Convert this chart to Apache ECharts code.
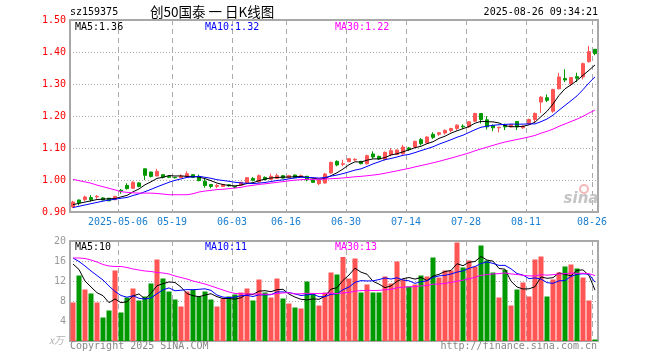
<!DOCTYPE html>
<html>
<head>
<meta charset="utf-8">
<script src="https://cdn.jsdelivr.net/npm/echarts@6/dist/echarts.min.js"></script>
<style>html,body{margin:0;padding:0;background:#fff;}#c{width:660px;height:360px;}</style>
</head>
<body>
<div id="c"></div>
<script>
// ---- data ----
const dates = [
'2025-04-21','2025-04-22','2025-04-23','2025-04-24','2025-04-25','2025-04-28','2025-04-29','2025-04-30',
'2025-05-06','2025-05-07','2025-05-08','2025-05-09','2025-05-12','2025-05-13','2025-05-14','2025-05-15','2025-05-16',
'2025-05-19','2025-05-20','2025-05-21','2025-05-22','2025-05-23','2025-05-26','2025-05-27','2025-05-28','2025-05-29','2025-05-30',
'2025-06-03','2025-06-04','2025-06-05','2025-06-06','2025-06-09','2025-06-10','2025-06-11','2025-06-12','2025-06-13',
'2025-06-16','2025-06-17','2025-06-18','2025-06-19','2025-06-20','2025-06-23','2025-06-24','2025-06-25','2025-06-26','2025-06-27',
'2025-06-30','2025-07-01','2025-07-02','2025-07-03','2025-07-04','2025-07-07','2025-07-08','2025-07-09','2025-07-10','2025-07-11',
'2025-07-14','2025-07-15','2025-07-16','2025-07-17','2025-07-18','2025-07-21','2025-07-22','2025-07-23','2025-07-24','2025-07-25',
'2025-07-28','2025-07-29','2025-07-30','2025-07-31','2025-08-01','2025-08-04','2025-08-05','2025-08-06','2025-08-07','2025-08-08',
'2025-08-11','2025-08-12','2025-08-13','2025-08-14','2025-08-15','2025-08-18','2025-08-19','2025-08-20','2025-08-21','2025-08-22',
'2025-08-25','2025-08-26'];

const opens = [0.9156,0.9375,0.9385,0.945,0.947,0.944,0.943,0.9385,0.968,0.983,
0.974,0.991,1.035,1.025,1.0125,1.0167,1.0115,1.008,1.0073,1.009,
1.0167,1.011,0.996,0.986,0.980,0.980,0.985,0.980,0.9833,0.9906,
1.005,0.9937,1.0083,1.002,1.005,1.0135,1.007,1.0156,1.009,1.0115,
1.000,0.9885,0.9906,1.0219,1.0583,1.049,1.0573,1.0625,1.0583,1.051,
1.0813,1.074,1.0645,1.0792,1.080,1.0823,1.100,1.1031,1.126,1.1156,
1.1427,1.1427,1.1469,1.1546,1.161,1.1683,1.1661,1.1839,1.2079,1.188,
1.170,1.163,1.172,1.166,1.183,1.163,1.176,1.189,1.2435,1.257,
1.215,1.285,1.317,1.301,1.323,1.322,1.370,1.4085];

const closes = [0.931,0.929,0.947,0.9385,0.949,0.9375,0.935,0.949,0.965,0.973,
0.993,0.980,1.0146,1.011,1.027,1.009,1.0083,1.007,1.0125,1.0198,
1.008,0.998,0.983,0.980,0.983,0.9855,0.982,0.9775,0.9927,1.0073,
0.999,1.0135,1.001,1.0115,1.0135,1.006,1.0135,1.0073,1.0135,1.001,
0.9927,0.9997,1.0188,1.0552,1.047,1.051,1.0667,1.0646,1.051,1.076,
1.0719,1.0656,1.0865,1.0917,1.0938,1.1031,1.0955,1.1208,1.1135,1.1344,
1.1333,1.1479,1.1552,1.161,1.1714,1.1661,1.1818,1.2079,1.1891,1.1661,
1.163,1.165,1.166,1.173,1.166,1.168,1.189,1.208,1.259,1.249,
1.283,1.322,1.3125,1.320,1.318,1.3636,1.401,1.395];

const lows = [0.912,0.921,0.934,0.932,0.941,0.936,0.934,0.937,0.957,0.970,
0.972,0.977,1.000,1.008,1.012,1.005,1.006,1.005,1.007,1.008,
1.006,0.996,0.976,0.974,0.9745,0.979,0.979,0.9735,0.982,0.989,
0.996,0.993,0.999,1.000,1.004,1.005,1.006,1.006,1.007,0.996,
0.9906,0.9833,0.9885,1.0198,1.043,1.043,1.056,1.060,1.049,1.048,
1.0667,1.063,1.061,1.074,1.079,1.079,1.091,1.100,1.108,1.114,
1.1281,1.138,1.142,1.149,1.155,1.160,1.163,1.181,1.1766,1.1578,
1.1526,1.149,1.156,1.164,1.156,1.160,1.173,1.179,1.210,1.2435,
1.210,1.283,1.306,1.294,1.306,1.3145,1.3667,1.390];

const highs = [0.935,0.939,0.951,0.953,0.953,0.946,0.944,0.950,0.972,0.990,
0.996,0.993,1.035,1.026,1.035,1.018,1.013,1.010,1.018,1.027,
1.018,1.017,1.003,0.987,0.9875,0.987,0.987,0.9815,0.994,1.0073,
1.009,1.0177,1.011,1.0198,1.0198,1.015,1.016,1.017,1.0167,1.013,
1.004,1.000,1.022,1.0573,1.0615,1.0635,1.068,1.068,1.0595,1.079,
1.0896,1.076,1.089,1.100,1.095,1.110,1.103,1.123,1.131,1.1365,
1.149,1.149,1.158,1.163,1.174,1.174,1.184,1.210,1.2079,1.1996,
1.174,1.165,1.176,1.175,1.184,1.171,1.192,1.211,1.262,1.2675,
1.285,1.335,1.346,1.322,1.3354,1.367,1.419,1.4085];

// volume, unit: 10k shares (万)
const volumes = [7.7,13.1,10.3,9.5,7.7,4.7,6.1,14.1,5.7,8.7,
10.5,8.1,8.9,11.5,16.3,12.5,9.9,8.3,6.9,9.9,
10.3,8.9,9.9,8.3,6.9,8.5,8.9,9.3,9.7,10.5,
8.1,12.3,9.7,8.7,12.5,8.5,7.5,6.7,6.5,11.9,
9.5,7.1,9.7,13.7,13.3,16.8,12.5,16.5,9.7,11.3,
9.7,9.7,12.9,11.5,15.9,12.3,10.9,11.3,13.1,12.9,
16.7,12.7,14.1,14.1,19.7,14.7,16.1,14.9,19.1,16.1,
13.7,8.7,14.2,7.1,10.3,11.7,8.9,16.3,16.9,8.9,
12.3,13.7,14.9,15.3,14.5,12.7,8.1,0.3];

const priceMa5Head = [0.923,0.927,0.931,0.935];
const priceMa10Head = [0.914,0.918,0.922,0.926,0.930,0.934,0.937,0.940,0.943];
const priceMa30Head = [1.002,0.998,0.994,0.990,0.984,0.979,0.974,0.969,0.9635,0.9615,
0.960,0.959,0.959,0.959,0.958,0.956,0.954,0.954,0.954,0.954,
0.957,0.9625,0.9655,0.9677,0.970,0.971,0.973,0.975,0.977];
const volMa5Head = [15.4,14.3,12.0,10.8];
const volMa10Head = [16.6,15.9,15.0,14.0,13.1,12.2,11.0,9.9,9.1];
const volMa30Head = [16.6,16.6,16.5,16.2,15.8,15.3,15.0,14.9,14.9,14.7,
14.4,14.2,14.0,13.9,13.7,13.6,13.4,13.0,12.7,12.4,
12.0,11.7,11.4,11.0,10.6,10.2,9.8,9.5,9.45];

const labelDates = ['2025-05-06','2025-05-19','2025-06-03','2025-06-16','2025-06-30','2025-07-14','2025-07-28','2025-08-11','2025-08-26'];
const labelTexts = ['2025-05-06','05-19','06-03','06-16','06-30','07-14','07-28','08-11','08-26'];

const priceTicks = {min:0.9, max:1.5, interval:0.1};
const volTicks = {min:0, max:20, interval:4};

// ---- build ----
function movingAvg(arr, n, head){
  return arr.map(function(v,i){
    if (i < head.length) return head[i];
    let s = 0; for (let k=i-n+1;k<=i;k++) s += arr[k];
    return +(s/n).toFixed(4);
  });
}
const RED = '#ff5555', GREEN = '#009900';
const kData = dates.map((d,i)=>[opens[i], closes[i], lows[i], highs[i]]);
const volData = volumes.map((v,i)=>({value:v, itemStyle:{color: closes[i] >= opens[i] ? RED : GREEN}}));
const labelSet = {};
labelDates.forEach((d,i)=>{ labelSet[d] = labelTexts[i]; });
const showIdx = function(idx, val){ return labelSet[val] !== undefined; };

const MONO = '"DejaVu Sans Mono", "Liberation Mono", monospace';
const vSplit = {show:true, interval: showIdx, lineStyle:{color:'#aaaaaa', type:[5,4], width:1}};
const hSplit = {show:true, lineStyle:{color:'#aaaaaa', type:[1,2], width:1}};

function lineSeries(name, data, color, xi, yi){
  return {name:name, type:'line', data:data, xAxisIndex:xi, yAxisIndex:yi, showSymbol:false, symbol:'none',
    silent:true, lineStyle:{color:color, width:1}, itemStyle:{color:color}, z:5};
}

const chart = echarts.init(document.getElementById('c'), null, {renderer:'canvas', width:660, height:360});
function txt(x, y, text, color, size, align, extra){
  return Object.assign({type:'text', x:x, y:y, silent:true, z:100,
    style:{text:text, fill:color, fontSize:size||10, fontFamily:MONO, align:align||'left', verticalAlign:'middle'}}, extra||{});
}
chart.setOption({
  animation:false,
  backgroundColor:'#ffffff',
  grid:[
    {left:70, top:20, width:528, height:192, show:true, borderColor:'#a8a8a8', borderWidth:2},
    {left:70, top:241, width:528, height:100, show:true, borderColor:'#a8a8a8', borderWidth:2}
  ],
  xAxis:[
    {type:'category', gridIndex:0, data:dates, boundaryGap:true,
     axisLine:{show:false}, axisTick:{show:false},
     axisLabel:{interval:showIdx, formatter:function(v){return labelSet[v];}, color:'#1b7fcf',
       fontFamily:MONO, fontSize:10, margin:5, padding:[0,6,0,0]},
     splitLine:vSplit},
    {type:'category', gridIndex:1, data:dates, boundaryGap:true,
     axisLine:{show:false}, axisTick:{show:false}, axisLabel:{show:false}, splitLine:vSplit}
  ],
  yAxis:[
    {type:'value', gridIndex:0, min:priceTicks.min, max:priceTicks.max, interval:priceTicks.interval, scale:true,
     axisLine:{show:false}, axisTick:{show:false}, splitLine:hSplit,
     axisLabel:{color:'#ff0000', fontFamily:MONO, fontSize:10, margin:4, showMinLabel:true, showMaxLabel:true,
       formatter:function(v){return v.toFixed(2);}}},
    {type:'value', gridIndex:1, min:volTicks.min, max:volTicks.max, interval:volTicks.interval,
     axisLine:{show:false}, axisTick:{show:false}, splitLine:hSplit,
     axisLabel:{color:'#999999', fontFamily:MONO, fontSize:10, margin:4, showMinLabel:true, showMaxLabel:true,
       formatter:function(v){return v === 0 ? '' : String(v);}}}
  ],
  series:[
    {type:'candlestick', name:'K', data:kData, xAxisIndex:0, yAxisIndex:0, barWidth:4,
     itemStyle:{color:RED, color0:GREEN, borderColor:RED, borderColor0:GREEN, borderWidth:1}, z:3},
    lineSeries('MA5', movingAvg(closes,5,priceMa5Head), '#000000', 0, 0),
    lineSeries('MA10', movingAvg(closes,10,priceMa10Head), '#0000ff', 0, 0),
    lineSeries('MA30', movingAvg(closes,30,priceMa30Head), '#ff00ff', 0, 0),
    {type:'bar', name:'VOL', data:volData, xAxisIndex:1, yAxisIndex:1, barWidth:5, z:3},
    lineSeries('VMA5', movingAvg(volumes,5,volMa5Head), '#000000', 1, 1),
    lineSeries('VMA10', movingAvg(volumes,10,volMa10Head), '#0000ff', 1, 1),
    lineSeries('VMA30', movingAvg(volumes,30,volMa30Head), '#ff00ff', 1, 1)
  ],
  graphic:[
    txt(70, 12, 'sz159375', '#000', 10),
    {type:'text', x:150, y:12, silent:true, z:100,
     style:{text:'创50国泰 一 日K线图', fill:'#000', fontSize:13.5, fontFamily:'"Noto Sans CJK SC"', align:'left', verticalAlign:'middle'}},
    txt(598, 12, '2025-08-26 09:34:21', '#000', 10, 'right'),
    txt(75, 27, 'MA5:1.36', '#000000', 10),
    txt(205, 27, 'MA10:1.32', '#0000ff', 10),
    txt(335, 27, 'MA30:1.22', '#ff00ff', 10),
    txt(75, 247, 'MA5:10', '#000000', 10),
    txt(205, 247, 'MA10:11', '#0000ff', 10),
    txt(335, 247, 'MA30:13', '#ff00ff', 10),
    {type:'text', x:64, y:340, silent:true, z:100,
     style:{text:'x万', fill:'#b0b0b0', fontSize:10, fontStyle:'italic', fontFamily:'"Noto Sans CJK SC"', align:'right', verticalAlign:'middle'}},
    txt(70, 346, 'Copyright 2025 SINA.COM', '#888888', 10),
    txt(597, 346, 'http://finance.sina.com.cn', '#888888', 10, 'right'),
    {type:'circle', shape:{cx:584, cy:189, r:4}, silent:true, z:90, style:{fill:'none', stroke:'#f3b8b8', lineWidth:2}},
    {type:'text', x:581, y:199, silent:true, z:90,
     style:{text:'sina', fill:'#c4c4c4', fontSize:15, fontWeight:'bold', fontStyle:'italic', fontFamily:'"DejaVu Sans"', align:'center', verticalAlign:'middle'}}
  ]
});
</script>
</body>
</html>
